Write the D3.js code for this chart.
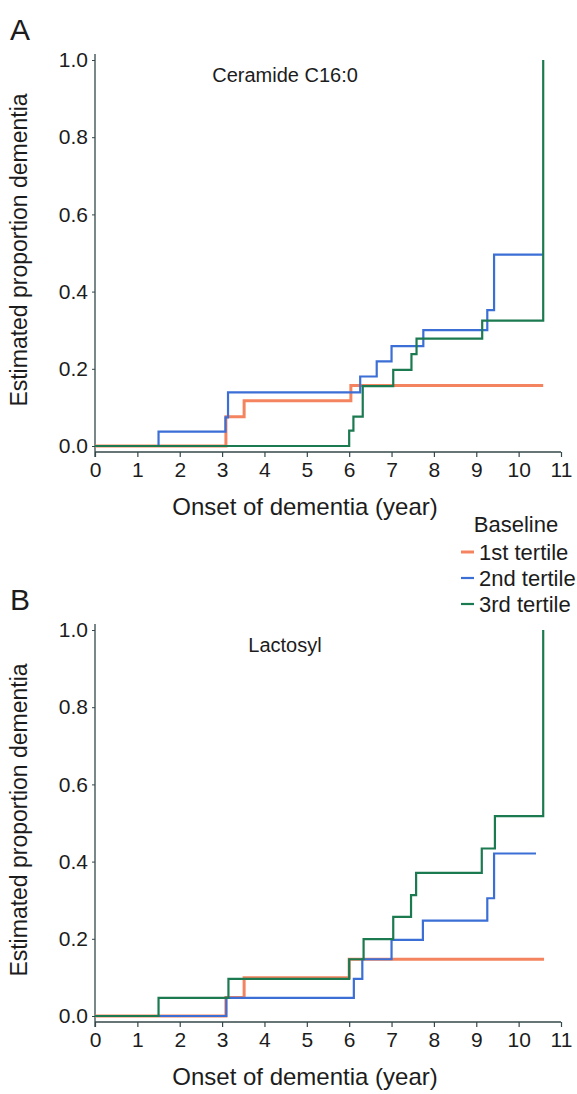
<!DOCTYPE html>
<html>
<head>
<meta charset="utf-8">
<script src="https://cdn.jsdelivr.net/npm/d3@7"></script>
<style>
  html, body { margin: 0; padding: 0; background: #fff; }
  svg text { font-family: "Liberation Sans", Arial, sans-serif; fill: #1c1c1c; }
</style>
</head>
<body>
<div id="vis"></div>
<script>
// tick labels
const xTickValues = [0, 1, 2, 3, 4, 5, 6, 7, 8, 9, 10, 11];
const yTickValues = [0, 0.2, 0.4, 0.6, 0.8, 1.0];

// legend
const seriesNames = ['1st tertile', '2nd tertile', '3rd tertile'];
const seriesColors = ['#f4845f', '#3b6fd6', '#1b7a50'];

// panel A: Ceramide C16:0 (time, estimated proportion)
const cerT1 = [0, 3.09, 3.52, 6.04, 10.58];
const cerV1 = [0, 0.076, 0.117, 0.157, 0.157];
const cerT2 = [0, 1.5, 3.08, 3.14, 6.26, 6.65, 7.0, 7.75, 9.26, 9.42, 10.58];
const cerV2 = [0, 0.037, 0.074, 0.139, 0.18, 0.219, 0.259, 0.30, 0.352, 0.496, 0.496];
const cerT3 = [0, 6.0, 6.1, 6.32, 7.04, 7.47, 7.59, 9.14, 10.58];
const cerV3 = [0, 0.04, 0.076, 0.155, 0.197, 0.238, 0.278, 0.325, 1.0];

// panel B: Lactosyl
const lacT1 = [0, 3.09, 3.52, 6.0, 10.6];
const lacV1 = [0, 0.048, 0.099, 0.147, 0.147];
const lacT2 = [0, 3.1, 6.11, 6.31, 7.0, 7.74, 9.26, 9.42, 10.41];
const lacV2 = [0, 0.047, 0.096, 0.147, 0.197, 0.247, 0.305, 0.421, 0.421];
const lacT3 = [0, 1.5, 3.15, 6.0, 6.34, 7.04, 7.46, 7.58, 9.13, 9.44, 10.58];
const lacV3 = [0, 0.047, 0.096, 0.147, 0.199, 0.257, 0.313, 0.371, 0.434, 0.518, 1.0];

const width = 577, height = 1094;
const svg = d3.select('#vis').append('svg')
  .attr('width', width)
  .attr('height', height);

const x = d3.scaleLinear().domain([0, 11]).range([95, 561]);
const axisColor = '#34474a';

function drawPanel(letter, title, top, series) {
  const y = d3.scaleLinear().domain([0, 1]).range([top + 386, top]);
  const g = svg.append('g');
  const axisY = top + 392;

  // panel letter + title
  g.append('text').attr('x', 10).attr('y', top - 20)
    .style('font-size', '30px').text(letter);
  g.append('text').attr('x', 285).attr('y', top + 22)
    .attr('text-anchor', 'middle').style('font-size', '20px').text(title);

  // y axis
  const yAxis = d3.axisLeft(y).tickValues(yTickValues)
    .tickFormat(d3.format('.1f')).tickSize(3).tickPadding(4);
  const ya = g.append('g').attr('transform', 'translate(' + x(0) + ',0)').call(yAxis);
  ya.select('.domain').remove();
  ya.append('line').attr('x1', 0).attr('x2', 0)
    .attr('y1', top - 6).attr('y2', axisY + 5)
    .attr('stroke', axisColor).attr('stroke-width', 1.3);
  ya.selectAll('.tick line').attr('stroke', axisColor);
  ya.selectAll('.tick text').style('font-size', '21px').attr('fill', '#1c1c1c');

  // x axis
  const xAxis = d3.axisBottom(x).tickValues(xTickValues).tickSize(5).tickPadding(5);
  const xa = g.append('g').attr('transform', 'translate(0,' + axisY + ')').call(xAxis);
  xa.select('.domain').attr('d', 'M' + x(0) + ',0H' + x(11))
    .attr('stroke', axisColor).attr('stroke-width', 1.3);
  xa.selectAll('.tick line').attr('stroke', axisColor).attr('stroke-width', 1.2);
  xa.selectAll('.tick text').style('font-size', '21px').attr('fill', '#1c1c1c');

  // axis titles
  g.append('text').attr('x', 305).attr('y', axisY + 63)
    .attr('text-anchor', 'middle').style('font-size', '24px')
    .text('Onset of dementia (year)');
  g.append('text')
    .attr('transform', 'translate(27,' + (top + 190) + ') rotate(-90)')
    .attr('text-anchor', 'middle').style('font-size', '23px')
    .text('Estimated proportion dementia');

  const line = d3.line()
    .x((d) => x(d[0]))
    .y((d) => y(d[1]))
    .curve(d3.curveStepAfter);

  series.forEach(function (s, i) {
    const pts = s.t.map((t, j) => [t, s.v[j]]);
    g.append('path')
      .datum(pts)
      .attr('d', line)
      .attr('fill', 'none')
      .attr('stroke', seriesColors[i])
      .attr('stroke-width', i === 0 ? 3 : 2.2)
      .attr('stroke-linejoin', 'miter');
  });
}

drawPanel('A', 'Ceramide C16:0', 60, [
  { t: cerT1, v: cerV1 },
  { t: cerT2, v: cerV2 },
  { t: cerT3, v: cerV3 }
]);

drawPanel('B', 'Lactosyl', 630, [
  { t: lacT1, v: lacV1 },
  { t: lacT2, v: lacV2 },
  { t: lacT3, v: lacV3 }
]);

// legend
const legend = svg.append('g');
legend.append('text').attr('x', 516).attr('y', 532)
  .attr('text-anchor', 'middle').style('font-size', '22px').text('Baseline');
seriesNames.forEach(function (name, i) {
  const ly = 552 + i * 26;
  legend.append('line')
    .attr('x1', 461).attr('x2', 474)
    .attr('y1', ly).attr('y2', ly)
    .attr('stroke', seriesColors[i])
    .attr('stroke-width', i === 0 ? 3 : 2.2);
  legend.append('text').attr('x', 479).attr('y', ly + 8)
    .style('font-size', '22px').text(name);
});
</script>
</body>
</html>
